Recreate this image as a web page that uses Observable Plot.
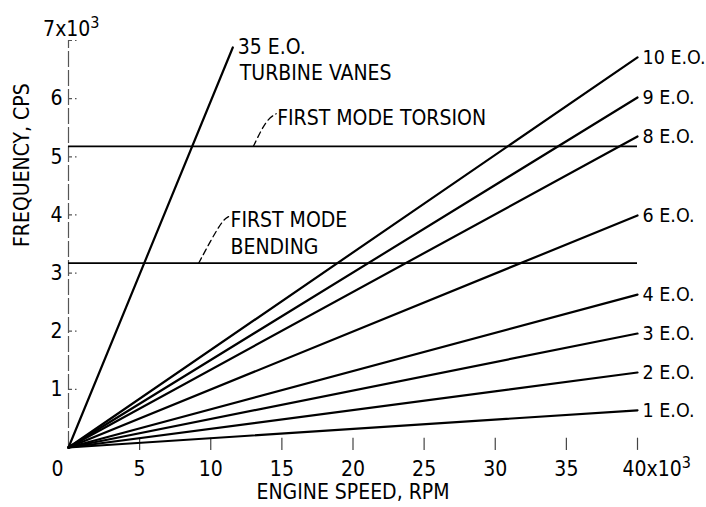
<!DOCTYPE html>
<html>
<head>
<meta charset="utf-8">
<script src="https://cdn.jsdelivr.net/npm/d3@7"></script>
<script src="https://cdn.jsdelivr.net/npm/@observablehq/plot@0.6"></script>
<style>
  html, body { margin: 0; padding: 0; background: #fff; }
  #chart { width: 706px; height: 507px; }
  #chart svg text { font-stretch: condensed; }
</style>
</head>
<body>
<div id="chart"></div>
<script>
// Engine-order excitation lines (end value read at 40x10^3 rpm)
const orders   = ["10 E.O.", "9 E.O.", "8 E.O.", "6 E.O.", "4 E.O.", "3 E.O.", "2 E.O.", "1 E.O."];
const endFreq  = [6.71, 6.02, 5.35, 3.99, 2.63, 1.96, 1.29, 0.64];
const endSpeed = 40;
// 35 E.O. turbine-vane line end point
const vaneSpeed = 11.55;
const vaneFreq  = 6.88;
// Blade natural frequencies (x10^3 cps)
const modeNames = ["FIRST MODE TORSION", "FIRST MODE", "BENDING"];
const modeFreq  = [5.18, 3.17];
// Tick labels
const xTicks = [5, 10, 15, 20, 25, 30, 35];
const yTicks = [1, 2, 3, 4, 5, 6];

const FONT = "'DejaVu Sans', sans-serif";

const lineData = orders.flatMap((o, i) => [
  {o, x: 0, y: 0},
  {o, x: endSpeed, y: endFreq[i]}
]).concat([{o: "35 E.O.", x: 0, y: 0}, {o: "35 E.O.", x: vaneSpeed, y: vaneFreq}]);

// leader lines for the mode annotations (data coordinates)
const leaders = [
  {k: "t", x: 13.0, y: modeFreq[0]}, {k: "t", x: 13.9, y: 5.64}, {k: "t", x: 14.6, y: 5.74},
  {k: "b", x: 9.15, y: modeFreq[1]}, {k: "b", x: 10.75, y: 3.90}, {k: "b", x: 11.25, y: 3.97}
];

const plot = Plot.plot({
  width: 706,
  height: 507,
  marginLeft: 68,
  marginRight: 69,
  marginTop: 40,
  marginBottom: 60,
  x: {domain: [0, 40], axis: null},
  y: {domain: [0, 7], axis: null},
  style: {fontFamily: FONT, fontSize: "21px", color: "#000", background: "#fff", overflow: "visible"},
  marks: [
    // y axis line and ticks
    Plot.ruleX([0], {y1: 0, y2: 7, stroke: "#555", strokeWidth: 1.2, strokeDasharray: "16,3"}),
    Plot.ruleY(yTicks.concat([7]), {x1: 0, x2: 0.6, stroke: "#555", strokeWidth: 1.2, strokeDasharray: "4,3"}),
    Plot.text(yTicks, {x: 0, y: d => d, dx: -6, textAnchor: "end", fill: "#000"}),
    Plot.text(["7x10"], {x: () => 0, y: () => 7, dx: 31, dy: -11, textAnchor: "end"}),
    // x ticks and labels
    Plot.ruleX(xTicks.concat([40]), {y1: -0.05, y2: 0.16, stroke: "#444", strokeWidth: 1.2}),
    Plot.text(xTicks, {x: d => d, y: 0, dy: 22}),
    Plot.text(["0"], {x: () => 0, y: () => 0, dx: -11, dy: 22}),
    Plot.text(["40x10"], {x: () => 40, y: () => 0, dx: -15, dy: 22, textAnchor: "start"}),
    // axis titles
    Plot.text(["ENGINE SPEED, RPM"], {frameAnchor: "bottom", dy: 51, textAnchor: "middle"}),
    Plot.text(["FREQUENCY, CPS"], {frameAnchor: "left", dx: -46, dy: 3, rotate: -90}),
    // mode lines
    Plot.ruleY(modeFreq, {x1: 0, x2: endSpeed, stroke: "#000", strokeWidth: 1.7}),
    // excitation lines
    Plot.line(lineData, {x: "x", y: "y", z: "o", stroke: "#000", strokeWidth: 2.2}),
    // order labels
    Plot.text(orders, {x: () => endSpeed, y: (d, i) => endFreq[i], dx: 5, textAnchor: "start", fontSize: 19.5}),
    Plot.text(["35 E.O."], {x: () => vaneSpeed, y: () => vaneFreq, dx: 5, textAnchor: "start"}),
    Plot.text(["TURBINE VANES"], {x: () => vaneSpeed, y: () => vaneFreq, dx: 7, dy: 26, textAnchor: "start"}),
    // mode annotations
    Plot.line(leaders, {x: "x", y: "y", z: "k", stroke: "#000", strokeWidth: 1.3, strokeDasharray: "6,4", curve: "basis"}),
    Plot.text([modeNames[0]], {x: () => 14.6, y: () => 5.74, dx: 1, dy: 5, textAnchor: "start"}),
    Plot.text([modeNames[1]], {x: () => 11.25, y: () => 3.97, dx: 2, dy: 4, textAnchor: "start"}),
    Plot.text([modeNames[2]], {x: () => 11.25, y: () => 3.97, dx: 2, dy: 31, textAnchor: "start"})
  ]
});

document.getElementById("chart").appendChild(plot);

// superscript exponents on the axis-end labels
d3.select(plot).selectAll("text")
  .filter(function () { return this.textContent === "7x10" || this.textContent === "40x10"; })
  .append("tspan").attr("dy", "-0.5em").attr("font-size", "16px").text("3");
</script>
</body>
</html>
